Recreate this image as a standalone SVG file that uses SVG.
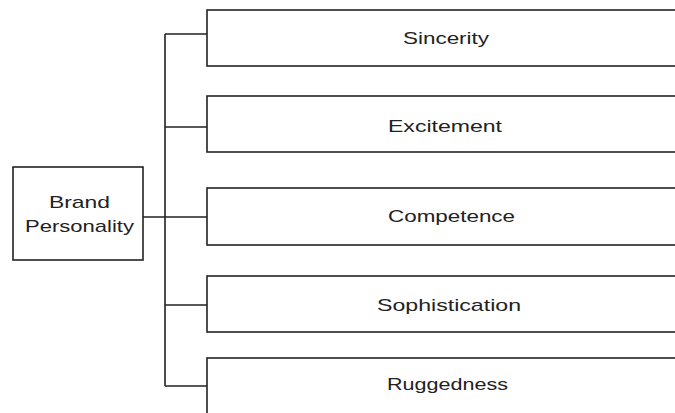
<svg xmlns="http://www.w3.org/2000/svg" width="675" height="413" viewBox="0 0 675 413">
<style>
.box{fill:#fff;stroke:#222;stroke-width:1.6}
.con{fill:none;stroke:#222;stroke-width:1.6}
text{font-family:"Liberation Sans",Arial,sans-serif;font-size:17px;fill:#222;text-anchor:middle}
</style>
<rect width="675" height="413" fill="#fff"/>
<g id="connectors">
<path class="con" d="M143 217H207M165 34V386M165 34H207M165 127H207M165 305H207M165 386H207"/>
</g>
<g id="brand">
<rect class="box" x="13" y="167" width="130" height="93"/>
<text x="79.5" y="208" textLength="61" lengthAdjust="spacingAndGlyphs">Brand</text>
<text x="79.5" y="232" textLength="109" lengthAdjust="spacingAndGlyphs">Personality</text>
</g>
<g id="sincerity">
<rect class="box" x="207" y="10" width="500" height="56"/>
<text x="446" y="44" textLength="86" lengthAdjust="spacingAndGlyphs">Sincerity</text>
</g>
<g id="excitement">
<rect class="box" x="207" y="96" width="500" height="56"/>
<text x="445" y="132" textLength="114" lengthAdjust="spacingAndGlyphs">Excitement</text>
</g>
<g id="competence">
<rect class="box" x="207" y="188" width="500" height="57"/>
<text x="451.5" y="222" textLength="127" lengthAdjust="spacingAndGlyphs">Competence</text>
</g>
<g id="sophistication">
<rect class="box" x="207" y="276" width="500" height="56"/>
<text x="449" y="311" textLength="144" lengthAdjust="spacingAndGlyphs">Sophistication</text>
</g>
<g id="ruggedness">
<rect class="box" x="207" y="358" width="500" height="60"/>
<text x="447.5" y="390" textLength="121" lengthAdjust="spacingAndGlyphs">Ruggedness</text>
</g>
</svg>
